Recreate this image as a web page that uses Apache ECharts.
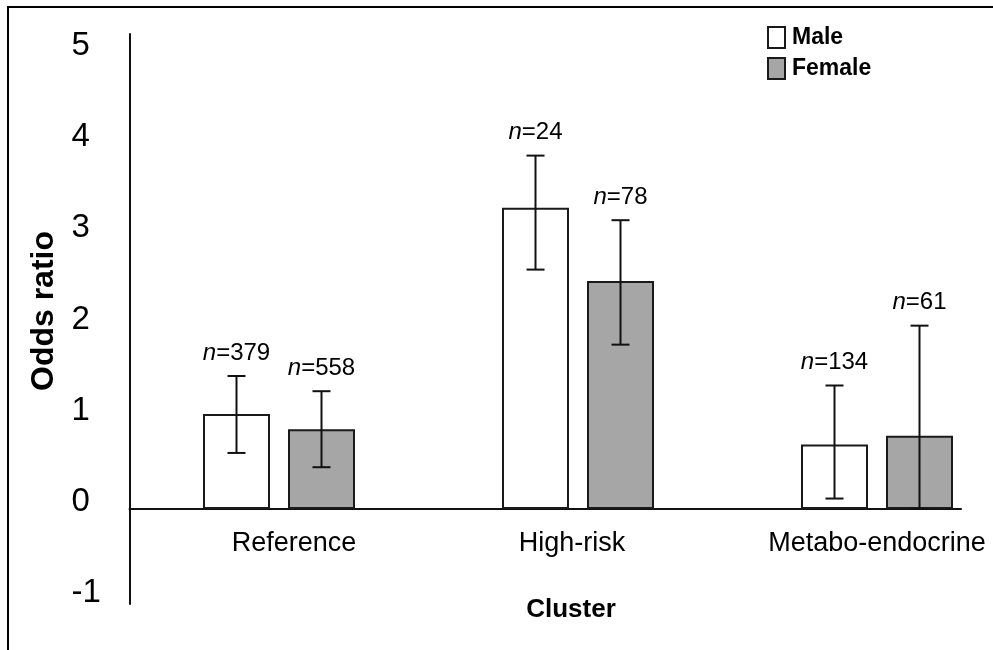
<!DOCTYPE html>
<html>
<head>
<meta charset="utf-8">
<script src="https://cdn.jsdelivr.net/npm/echarts@6/dist/echarts.min.js"></script>
<style>
  html, body { margin: 0; padding: 0; background: #fff; }
  #wrap { position: relative; width: 993px; height: 650px; overflow: hidden; }
  #frame { position: absolute; left: 7px; top: 6px; width: 1100px; height: 800px;
           border-left: 2px solid #000; border-top: 2px solid #000; }
  #chart { position: absolute; left: 0; top: 0; width: 993px; height: 650px; }
</style>
</head>
<body>
<div id="wrap">
  <div id="frame"></div>
  <div id="chart"></div>
</div>
<script>
// ---- data ----
const categories = ['Reference', 'High-risk', 'Metabo-endocrine'];
const seriesNames = ['Male', 'Female'];
const maleOR = [1.00, 3.17, 0.68];
const femaleOR = [0.84, 2.40, 0.77];
const maleLow = [0.59, 2.52, 0.11];
const maleHigh = [1.40, 3.72, 1.30];
const femaleLow = [0.44, 1.73, 0.00];
const femaleHigh = [1.24, 3.04, 1.93];
const maleN = [379, 24, 134];
const femaleN = [558, 78, 61];
const yTickLabels = [-1, 0, 1, 2, 3, 4, 5];

// ---- style ----
const FONT = '"Liberation Sans", Arial, Helvetica, sans-serif';
const Y_MIN = -1, Y_MAX = 5;
const GRID_TOP = 34, GRID_BOTTOM = 46, H = 650;
const GRID_H = H - GRID_TOP - GRID_BOTTOM;
const ZERO_OFFSET = (0 - Y_MIN) / (Y_MAX - Y_MIN) * GRID_H;
const BAR_W = 67;
const BAR_GAP = 18;
const OFFSET = (BAR_W + BAR_GAP) / 2;
const CAP = 9;

function errRenderer(offset, nArr) {
  return function (params, api) {
    const idx = api.value(0);
    const pLo = api.coord([idx, api.value(1)]);
    const pHi = api.coord([idx, api.value(2)]);
    const cx = pLo[0] + offset;
    const ls = { stroke: '#111', lineWidth: 2 };
    return {
      type: 'group',
      children: [
        { type: 'line', shape: { x1: cx, y1: pLo[1], x2: cx, y2: pHi[1] }, style: ls },
        { type: 'line', shape: { x1: cx - CAP, y1: pHi[1], x2: cx + CAP, y2: pHi[1] }, style: ls },
        { type: 'line', shape: { x1: cx - CAP, y1: pLo[1], x2: cx + CAP, y2: pLo[1] }, style: ls },
        { type: 'text', style: {
            x: cx, y: pHi[1] - 23, align: 'center', verticalAlign: 'middle',
            text: '{i|n}{r|=' + nArr[idx] + '}',
            rich: {
              i: { fontStyle: 'italic', fontSize: 24, fontFamily: FONT, fill: '#000' },
              r: { fontSize: 24, fontFamily: FONT, fill: '#000' }
            }
        } }
      ]
    };
  };
}

const chart = echarts.init(document.getElementById('chart'), null, { renderer: 'canvas' });
const option = {
  backgroundColor: 'transparent',
  animation: false,
  textStyle: { fontFamily: FONT, color: '#000' },
  legend: {
    data: seriesNames,
    orient: 'vertical',
    left: 762, top: 21,
    itemWidth: 17, itemHeight: 21, itemGap: 8,
    icon: 'rect',
    textStyle: { fontFamily: FONT, fontSize: 23, fontWeight: 'bold', color: '#000', padding: [0, 0, 0, 2] }
  },
  grid: [
    { left: 129.5, right: -33.5, top: GRID_TOP, bottom: GRID_BOTTOM, containLabel: false, outerBoundsMode: 'none' },
    { left: 129.5, right: 32, top: GRID_TOP, bottom: GRID_BOTTOM, containLabel: false, outerBoundsMode: 'none' }
  ],
  xAxis: [
    {
      type: 'category', gridIndex: 0, data: categories,
      position: 'bottom', offset: -ZERO_OFFSET,
      axisLine: { show: false, onZero: false },
      axisTick: { show: false },
      axisLabel: {
        interval: 0, margin: 21, fontSize: 27, color: '#000', fontFamily: FONT,
        formatter: function (v, i) { return '{c' + i + '|' + v + '}'; },
        rich: {
          c0: { fontSize: 27, fontFamily: FONT, color: '#000', padding: [0, 0, 0, 30] },
          c1: { fontSize: 27, fontFamily: FONT, color: '#000', padding: [0, 12, 0, 0] },
          c2: { fontSize: 27, fontFamily: FONT, color: '#000' }
        }
      },
      name: 'Cluster', nameLocation: 'middle', nameGap: 88,
      nameTextStyle: { fontSize: 26, fontWeight: 'bold', color: '#000', fontFamily: FONT, padding: [0, 14, 0, 0] }
    },
    {
      type: 'value', gridIndex: 1, min: 0, max: 1,
      axisLine: { show: true, onZero: true, lineStyle: { color: '#111', width: 2 } },
      axisTick: { show: false }, axisLabel: { show: false }, splitLine: { show: false }
    }
  ],
  yAxis: [
    {
      type: 'value', gridIndex: 0, min: Y_MIN, max: Y_MAX, interval: 1,
      axisLine: { show: true, onZero: false, lineStyle: { color: '#111', width: 2 } },
      axisTick: { show: false }, axisLabel: { show: false }, splitLine: { show: false }
    },
    {
      type: 'value', gridIndex: 0, min: -1.117, max: 5.126, position: 'left',
      axisLine: { show: false, onZero: false }, axisTick: { show: false }, splitLine: { show: false },
      axisLabel: {
        customValues: yTickLabels, align: 'left', margin: 58,
        fontSize: 33, color: '#000', fontFamily: FONT
      },
      name: 'Odds ratio', nameLocation: 'middle', nameGap: 66, nameRotate: 90,
      nameTextStyle: { fontSize: 32, fontWeight: 'bold', color: '#000', fontFamily: FONT, padding: [0, 0, 0, 16] }
    },
    {
      type: 'value', gridIndex: 1, min: Y_MIN, max: Y_MAX,
      axisLine: { show: false }, axisTick: { show: false }, axisLabel: { show: false }, splitLine: { show: false }
    }
  ],
  series: [
    {
      name: 'Male', type: 'bar', xAxisIndex: 0, yAxisIndex: 0,
      data: maleOR, barWidth: BAR_W, barGap: (BAR_GAP / BAR_W * 100).toFixed(2) + '%',
      itemStyle: { color: '#ffffff', borderColor: '#1a1a1a', borderWidth: 2 }
    },
    {
      name: 'Female', type: 'bar', xAxisIndex: 0, yAxisIndex: 0,
      data: femaleOR, barWidth: BAR_W, barGap: (BAR_GAP / BAR_W * 100).toFixed(2) + '%',
      itemStyle: { color: '#a6a6a6', borderColor: '#1a1a1a', borderWidth: 2 }
    },
    {
      type: 'custom', xAxisIndex: 0, yAxisIndex: 0, z: 5,
      renderItem: errRenderer(-OFFSET, maleN),
      encode: { x: 0, y: [1, 2] },
      data: categories.map((c, i) => [i, maleLow[i], maleHigh[i]])
    },
    {
      type: 'custom', xAxisIndex: 0, yAxisIndex: 0, z: 5,
      renderItem: errRenderer(OFFSET, femaleN),
      encode: { x: 0, y: [1, 2] },
      data: categories.map((c, i) => [i, femaleLow[i], femaleHigh[i]])
    }
  ]
};
chart.setOption(option);
</script>
</body>
</html>
